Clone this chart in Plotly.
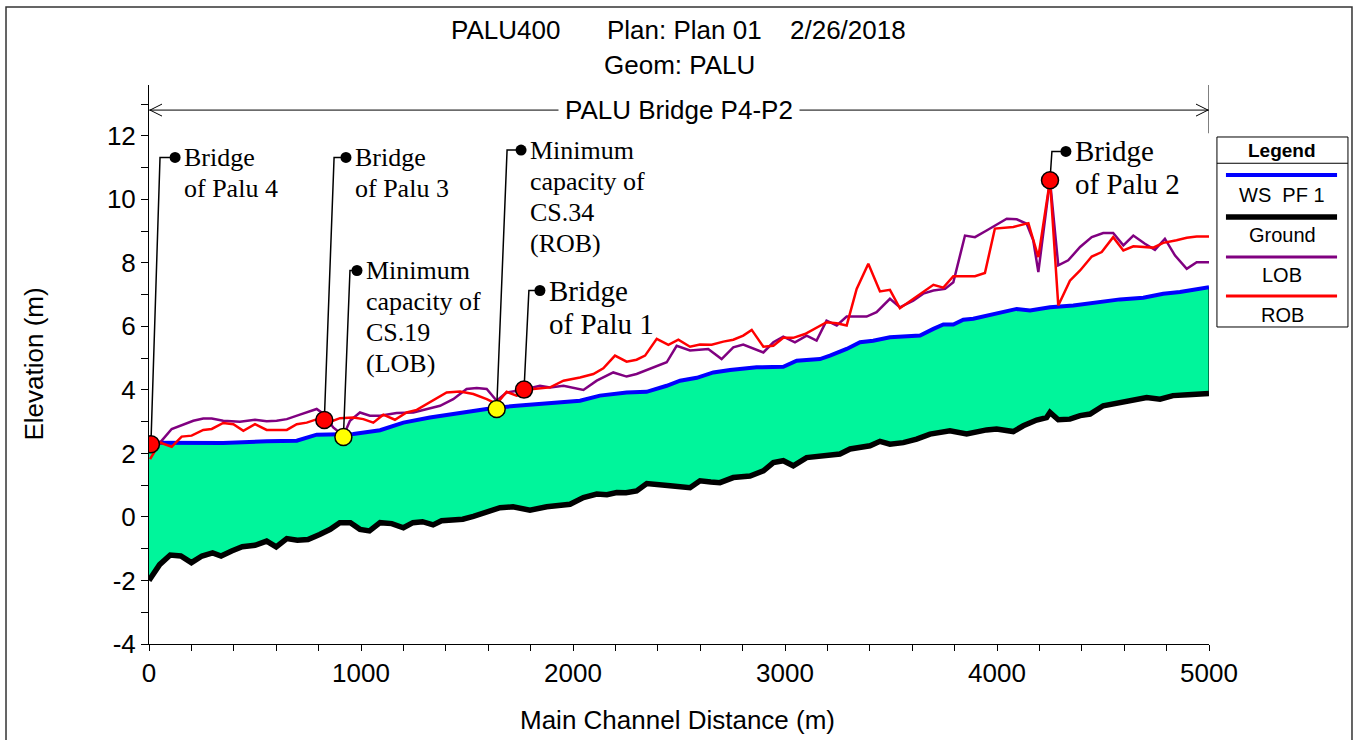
import plotly.graph_objects as go

# ------------------------------------------------------------------ data
GROUND_X = [0, 50, 100, 150, 200, 250, 300, 340, 390, 440, 500, 555, 600, 650, 700, 750, 805, 855,
            900, 950, 995, 1040, 1090, 1145, 1200, 1245, 1290, 1340, 1380, 1430, 1480, 1530, 1580,
            1610, 1656, 1717, 1797, 1876, 1940, 1986, 2049, 2112, 2160, 2206, 2250, 2300, 2348, 2400,
            2458, 2552, 2599, 2650, 2693, 2756, 2835, 2898, 2945, 2992, 3039, 3102, 3150, 3197, 3259,
            3307, 3354, 3401, 3448, 3495, 3558, 3621, 3684, 3730, 3778, 3857, 3900, 3951, 3998, 4077,
            4124, 4187, 4234, 4250, 4289, 4344, 4392, 4439, 4501, 4580, 4643, 4706, 4769, 4830, 4900,
            4960, 5000]
GROUND_Y = [-2.0, -1.5, -1.2, -1.23, -1.44, -1.23, -1.13, -1.23, -1.07, -0.94, -0.89, -0.76, -0.94,
            -0.68, -0.73, -0.71, -0.55, -0.39, -0.18, -0.18, -0.39, -0.44, -0.18, -0.21, -0.34, -0.18,
            -0.15, -0.25, -0.12, -0.10, -0.07, 0.02, 0.12, 0.20, 0.29, 0.32, 0.21, 0.32, 0.36, 0.40,
            0.61, 0.72, 0.70, 0.77, 0.76, 0.82, 1.05, 1.00, 0.98, 0.92, 1.14, 1.10, 1.08, 1.24, 1.29,
            1.45, 1.71, 1.77, 1.61, 1.87, 1.90, 1.92, 1.98, 2.14, 2.21, 2.24, 2.38, 2.29, 2.34, 2.45,
            2.61, 2.66, 2.71, 2.61, 2.68, 2.74, 2.77, 2.69, 2.87, 3.05, 3.13, 3.29, 3.06, 3.08, 3.19,
            3.24, 3.50, 3.61, 3.66, 3.76, 3.71, 3.82, 3.85, 3.89, 3.89]

WS_X = [0, 115, 349, 555, 697, 791, 869, 964, 1090, 1200, 1325, 1435, 1530, 1624, 1734, 1844, 1939,
        2033, 2127, 2253, 2347, 2442, 2505, 2584, 2662, 2741, 2866, 2992, 3055, 3165, 3212, 3291,
        3354, 3416, 3495, 3637, 3700, 3747, 3794, 3841, 3888, 3998, 4093, 4156, 4250, 4360, 4454,
        4580, 4690, 4784, 4863, 5000]
WS_Y = [2.34, 2.34, 2.33, 2.38, 2.40, 2.59, 2.59, 2.61, 2.73, 2.97, 3.13, 3.24, 3.34, 3.43, 3.50,
        3.56, 3.61, 3.66, 3.82, 3.92, 3.94, 4.13, 4.29, 4.38, 4.55, 4.63, 4.71, 4.73, 4.92, 4.97,
        5.08, 5.29, 5.50, 5.55, 5.66, 5.71, 5.92, 6.06, 6.06, 6.21, 6.24, 6.39, 6.55, 6.50, 6.60,
        6.66, 6.74, 6.85, 6.90, 7.03, 7.08, 7.23]

LOB_X = [5, 52, 107, 162, 209, 256, 296, 350, 429, 500, 555, 602, 650, 712, 791, 822, 869, 917, 948,
         995, 1042, 1090, 1168, 1247, 1325, 1373, 1435, 1498, 1546, 1593, 1640, 1687, 1760, 1844,
         1892, 1955, 2049, 2112, 2190, 2253, 2300, 2395, 2442, 2489, 2552, 2638, 2701, 2756, 2803,
         2898, 2945, 2992, 3047, 3102, 3149, 3196, 3244, 3291, 3338, 3385, 3432, 3495, 3542, 3605,
         3652, 3700, 3755, 3794, 3849, 3896, 3951, 3983, 4046, 4093, 4140, 4171, 4195, 4250, 4289,
         4336, 4392, 4447, 4501, 4548, 4596, 4643, 4698, 4745, 4792, 4840, 4895, 4942, 5000]
LOB_Y = [2.19, 2.34, 2.77, 2.92, 3.03, 3.10, 3.10, 3.03, 3.00, 3.06, 3.01, 3.03, 3.08, 3.22, 3.40,
         3.25, 2.82, 2.56, 3.03, 3.29, 3.19, 3.19, 3.27, 3.29, 3.43, 3.50, 3.71, 4.03, 4.06, 4.03,
         3.66, 3.92, 4.00, 4.13, 4.08, 4.13, 4.00, 4.29, 4.55, 4.42, 4.50, 4.76, 4.87, 5.39, 5.24,
         5.29, 4.97, 5.34, 5.43, 5.18, 5.50, 5.68, 5.50, 5.71, 5.55, 6.18, 6.03, 6.31, 6.31, 6.31,
         6.45, 6.87, 6.60, 6.81, 7.03, 7.13, 7.18, 7.39, 8.86, 8.81, 9.02, 9.15, 9.39, 9.37, 9.23,
         8.71, 7.71, 10.6, 7.92, 8.08, 8.50, 8.81, 8.94, 8.94, 8.55, 8.86, 8.60, 8.41, 8.76, 8.23,
         7.81, 8.02, 8.02]

ROB_X = [5, 52, 107, 154, 201, 256, 296, 350, 398, 445, 500, 555, 650, 697, 744, 807, 869, 901, 964,
         1011, 1058, 1105, 1160, 1215, 1263, 1325, 1404, 1467, 1530, 1593, 1640, 1687, 1734, 1813,
         1892, 1955, 2033, 2096, 2143, 2198, 2253, 2300, 2340, 2395, 2450, 2497, 2552, 2599, 2654,
         2709, 2756, 2803, 2843, 2898, 2945, 2992, 3039, 3094, 3149, 3196, 3244, 3291, 3338, 3393,
         3448, 3495, 3542, 3605, 3652, 3700, 3747, 3794, 3857, 3896, 3943, 3990, 4077, 4148, 4195,
         4250, 4289, 4344, 4392, 4447, 4494, 4548, 4596, 4643, 4737, 4784, 4847, 4895, 4942, 5000]
ROB_Y = [1.82, 2.34, 2.21, 2.53, 2.56, 2.74, 2.77, 2.96, 2.92, 2.71, 2.92, 2.74, 2.74, 2.92, 2.97,
         3.11, 3.03, 3.11, 3.13, 3.08, 2.97, 3.22, 3.06, 3.29, 3.37, 3.61, 3.92, 3.95, 3.87, 3.71,
         3.56, 3.94, 3.82, 4.03, 4.08, 4.29, 4.39, 4.50, 4.68, 5.08, 4.89, 4.95, 5.08, 5.61, 5.42,
         5.58, 5.36, 5.43, 5.42, 5.52, 5.58, 5.71, 5.89, 5.36, 5.39, 5.64, 5.64, 5.76, 5.97, 6.13,
         6.10, 6.03, 7.18, 7.97, 7.10, 7.15, 6.57, 6.87, 7.08, 7.31, 7.22, 7.58, 7.58, 7.58, 7.68,
         9.08, 9.13, 9.25, 8.18, 10.6, 6.66, 7.44, 7.76, 8.20, 8.34, 8.81, 8.39, 8.52, 8.48, 8.63,
         8.71, 8.79, 8.83, 8.83]

BRIDGE_X = [9, 827, 1769, 4250]
BRIDGE_Y = [2.29, 3.05, 4.01, 10.6]
BRIDGE_LABELS = [["Bridge", "of Palu 4"], ["Bridge", "of Palu 3"],
                 ["Bridge", "of Palu 1"], ["Bridge", "of Palu 2"]]
MINCAP_X = [917, 1640]
MINCAP_Y = [2.52, 3.40]
MINCAP_LABELS = [["Minimum", "capacity of", "CS.19", "(LOB)"],
                 ["Minimum", "capacity of", "CS.34", "(ROB)"]]

X_TICKS = [0, 1000, 2000, 3000, 4000, 5000]
Y_TICKS = [-4, -2, 0, 2, 4, 6, 8, 10, 12]

SERIES_NAMES = ["WS  PF 1", "Ground", "LOB", "ROB"]
REACH_LABEL = "PALU Bridge P4-P2"
REACH_START, REACH_END = 0, 5000
TITLE_PARTS = ["PALU400", "Plan: Plan 01", "2/26/2018"]
SUBTITLE = "Geom: PALU"

# ------------------------------------------------------------------ style / layout config
SANS = "Arial, Liberation Sans, sans-serif"
SERIF = "Times New Roman, Liberation Serif, serif"
FS = 26
FILL = "#00F59B"
C_WS, C_GR, C_LOB, C_ROB = "#0000FF", "#000000", "#800080", "#FF0000"
Y_RANGE = [-4, 13.6]
BRACKET_Y = 12.81

# callout placement (label dot position, elbow x, font size, line height px)
CALLOUTS = [
    dict(src="b", i=0, dx=123, dy=11.32, ex=52, fs=26, lh=31),
    dict(src="b", i=1, dx=929, dy=11.32, ex=873, fs=26, lh=31),
    dict(src="m", i=0, dx=981, dy=7.76, ex=948, fs=26, lh=31),
    dict(src="m", i=1, dx=1755, dy=11.55, ex=1689, fs=26, lh=31),
    dict(src="b", i=2, dx=1844, dy=7.13, ex=1792, fs=29, lh=33),
    dict(src="b", i=3, dx=4325, dy=11.51, ex=4259, fs=29, lh=33),
]

fig = go.Figure()

# filled area between ground and water surface
fig.add_trace(go.Scatter(x=GROUND_X, y=GROUND_Y, mode="lines", line=dict(width=0, color=FILL),
                         hoverinfo="skip", showlegend=False))
fig.add_trace(go.Scatter(x=WS_X, y=WS_Y, mode="lines", fill="tonexty", fillcolor=FILL,
                         line=dict(width=0, color=FILL), hoverinfo="skip", showlegend=False))
fig.add_trace(go.Scatter(x=[GROUND_X[-1], WS_X[-1]], y=[GROUND_Y[-1], WS_Y[-1]], mode="lines",
                         line=dict(width=1, color="#000000"), hoverinfo="skip", showlegend=False))

# series lines
fig.add_trace(go.Scatter(x=GROUND_X, y=GROUND_Y, mode="lines", name=SERIES_NAMES[1],
                         line=dict(color=C_GR, width=5.5), showlegend=False))
fig.add_trace(go.Scatter(x=WS_X, y=WS_Y, mode="lines", name=SERIES_NAMES[0],
                         line=dict(color=C_WS, width=4), showlegend=False))
fig.add_trace(go.Scatter(x=LOB_X, y=LOB_Y, mode="lines", name=SERIES_NAMES[2],
                         line=dict(color=C_LOB, width=2.5), showlegend=False))
fig.add_trace(go.Scatter(x=ROB_X, y=ROB_Y, mode="lines", name=SERIES_NAMES[3],
                         line=dict(color=C_ROB, width=2.5), showlegend=False))

# callout leader lines + dots + text
annotations = []
for c in CALLOUTS:
    if c["src"] == "b":
        mx, my, lines = BRIDGE_X[c["i"]], BRIDGE_Y[c["i"]], BRIDGE_LABELS[c["i"]]
    else:
        mx, my, lines = MINCAP_X[c["i"]], MINCAP_Y[c["i"]], MINCAP_LABELS[c["i"]]
    fig.add_trace(go.Scatter(x=[mx, c["ex"], c["dx"]], y=[my, c["dy"], c["dy"]], mode="lines",
                             line=dict(color="#000000", width=1.5), hoverinfo="skip",
                             showlegend=False))
    fig.add_trace(go.Scatter(x=[c["dx"]], y=[c["dy"]], mode="markers",
                             marker=dict(color="#000000", size=11), hoverinfo="skip",
                             showlegend=False))
    for k, t in enumerate(lines):
        annotations.append(dict(x=c["dx"], y=c["dy"], xref="x", yref="y", text=t, showarrow=False,
                                xanchor="left", yanchor="middle", xshift=7, yshift=-k * c["lh"],
                                font=dict(family=SERIF, size=c["fs"], color="#000000")))

# markers
fig.add_trace(go.Scatter(x=BRIDGE_X, y=BRIDGE_Y, mode="markers",
                         marker=dict(color="#FF0000", size=17, line=dict(color="#000000", width=1.5)),
                         showlegend=False))
fig.add_trace(go.Scatter(x=MINCAP_X, y=MINCAP_Y, mode="markers",
                         marker=dict(color="#FFFF00", size=17, line=dict(color="#000000", width=1.5)),
                         showlegend=False))

# reach bracket
mid = (REACH_START + REACH_END) / 2
annotations.append(dict(x=mid, y=BRACKET_Y, xref="x", yref="y", text=REACH_LABEL, showarrow=False,
                        xanchor="center", yanchor="middle", bgcolor="#FFFFFF", borderpad=6,
                        font=dict(family=SANS, size=FS, color="#000000")))

shapes = [
    dict(type="line", xref="x", yref="y", x0=REACH_START, x1=REACH_END, y0=BRACKET_Y, y1=BRACKET_Y,
         line=dict(color="#000000", width=1), layer="below"),
    dict(type="line", xref="x", yref="y", x0=REACH_END, x1=REACH_END, y0=12.08, y1=Y_RANGE[1],
         line=dict(color="#000000", width=1)),
    dict(type="path", xref="x", yref="y", xsizemode="pixel", ysizemode="pixel",
         xanchor=REACH_START, yanchor=BRACKET_Y, path="M 13,6 L 1,0 L 13,-6",
         line=dict(color="#000000", width=1)),
    dict(type="path", xref="x", yref="y", xsizemode="pixel", ysizemode="pixel",
         xanchor=REACH_END, yanchor=BRACKET_Y, path="M -13,6 L -1,0 L -13,-6",
         line=dict(color="#000000", width=1)),
]

# figure border
shapes.append(dict(type="rect", xref="paper", yref="paper", x0=-0.1349, x1=1.1349, y0=-0.25,
                   y1=1.1395, line=dict(color="#333333", width=1.5)))

# custom legend box
LX0, LX1 = 1.0075, 1.1311
LXC = (LX0 + LX1) / 2
shapes.append(dict(type="rect", xref="paper", yref="paper", x0=LX0, x1=LX1, y0=0.5671, y1=0.907,
                   line=dict(color="#000000", width=1)))
shapes.append(dict(type="line", xref="paper", yref="paper", x0=LX0, x1=LX1, y0=0.860, y1=0.860,
                   line=dict(color="#000000", width=1)))
annotations.append(dict(x=LXC, y=0.8837, xref="paper", yref="paper", text="<b>Legend</b>",
                        showarrow=False, xanchor="center", yanchor="middle",
                        font=dict(family=SANS, size=19, color="#000000")))
leg_items = [(SERIES_NAMES[0], C_WS, 4, 0.839, 0.8032),
             (SERIES_NAMES[1], C_GR, 5.5, 0.7639, 0.7317),
             (SERIES_NAMES[2], C_LOB, 3, 0.6923, 0.6601),
             (SERIES_NAMES[3], C_ROB, 3, 0.6225, 0.5886)]
for name, col, w, ly, ty in leg_items:
    shapes.append(dict(type="line", xref="paper", yref="paper", x0=1.016, x1=1.1208, y0=ly, y1=ly,
                       line=dict(color=col, width=w)))
    annotations.append(dict(x=LXC, y=ty, xref="paper", yref="paper",
                            text=name.replace(" ", "&nbsp;"), showarrow=False,
                            xanchor="center", yanchor="middle",
                            font=dict(family=SANS, size=20, color="#000000")))

# titles
def paper_text(x, y, text, xanchor="center", angle=0):
    return dict(x=x, y=y, xref="paper", yref="paper", text=text, showarrow=False,
                xanchor=xanchor, yanchor="middle", textangle=angle,
                font=dict(family=SANS, size=FS, color="#000000"))

annotations += [
    paper_text(0.2830, 1.0984, TITLE_PARTS[0], "left"),
    paper_text(0.4300, 1.0984, TITLE_PARTS[1], "left"),
    paper_text(0.6030, 1.0984, TITLE_PARTS[2], "left"),
    paper_text(0.5009, 1.0358, SUBTITLE),
    paper_text(0.4985, -0.136, "Main Channel Distance (m)"),
    paper_text(-0.1094, 0.5, "Elevation (m)", angle=-90),
]

fig.update_layout(
    width=1358, height=740,
    margin=dict(l=149, r=149, t=85, b=96),
    paper_bgcolor="#FFFFFF", plot_bgcolor="#FFFFFF",
    showlegend=False,
    shapes=shapes, annotations=annotations,
    xaxis=dict(range=[REACH_START, REACH_END], tickvals=X_TICKS, ticktext=[str(v) for v in X_TICKS],
               showgrid=False, zeroline=False,
               showline=True, linecolor="#000000", linewidth=1, ticks="outside", ticklen=6,
               tickcolor="#000000", tickfont=dict(family=SANS, size=FS, color="#000000"),
               minor=dict(dtick=200, ticks="outside", ticklen=6, tickcolor="#000000", showgrid=False)),
    yaxis=dict(range=Y_RANGE, tickvals=Y_TICKS, ticktext=[str(v) for v in Y_TICKS],
               showgrid=False, zeroline=False,
               showline=True, linecolor="#000000", linewidth=1, ticks="outside", ticklen=7,
               tickcolor="#000000", tickfont=dict(family=SANS, size=FS, color="#000000"),
               minor=dict(dtick=1, ticks="outside", ticklen=7, tickcolor="#000000", showgrid=False)),
)

fig.write_html("out.html")
